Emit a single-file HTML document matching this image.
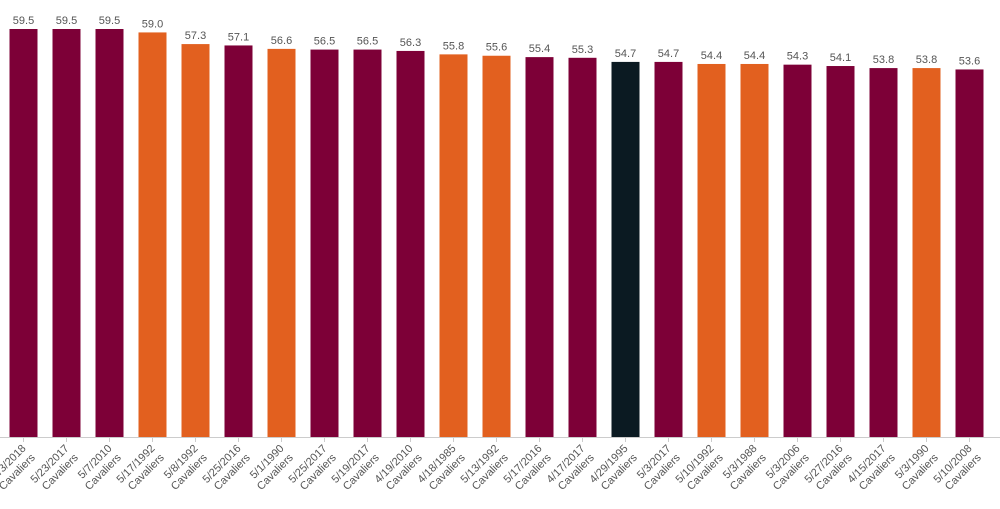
<!DOCTYPE html>
<html><head><meta charset="utf-8"><style>
body{margin:0;background:#fff;}
svg{display:block;font-family:"Liberation Sans",sans-serif;}
</style></head><body>
<svg id="c" width="1000" height="509"></svg>
<script>
const categories=["5/3/2018","5/23/2017","5/7/2010","5/17/1992","5/8/1992","5/25/2016","5/1/1990","5/25/2017","5/19/2017","4/19/2010","4/18/1985","5/13/1992","5/17/2016","4/17/2017","4/29/1995","5/3/2017","5/10/1992","5/3/1988","5/3/2006","5/27/2016","4/15/2017","5/3/1990","5/10/2008"];
const teams=["Cavaliers","Cavaliers","Cavaliers","Cavaliers","Cavaliers","Cavaliers","Cavaliers","Cavaliers","Cavaliers","Cavaliers","Cavaliers","Cavaliers","Cavaliers","Cavaliers","Cavaliers","Cavaliers","Cavaliers","Cavaliers","Cavaliers","Cavaliers","Cavaliers","Cavaliers","Cavaliers"];
const values=[59.5,59.5,59.5,59.0,57.3,57.1,56.6,56.5,56.5,56.3,55.8,55.6,55.4,55.3,54.7,54.7,54.4,54.4,54.3,54.1,53.8,53.8,53.6];
const colorGroups=["m","m","m","o","o","m","o","m","m","m","o","o","m","m","k","m","o","o","m","m","m","o","m"];
const palette={m:"#7d0037",o:"#e2601f",k:"#0b1a22"};
const NS="http://www.w3.org/2000/svg";
const svg=document.getElementById("c");
const x0=2,band=43,bw=28,base=437,pxPer=408/59.5;
const xs=i=>x0+band*i+band/2;
const ys=v=>base-v*pxPer;
function mk(t,a){const e=document.createElementNS(NS,t);for(const k in a)e.setAttribute(k,a[k]);svg.appendChild(e);return e;}
values.forEach((v,i)=>{
 const r=mk("rect",{x:xs(i)-bw/2,y:ys(v),width:bw,height:base-ys(v),fill:palette[colorGroups[i]]});
 
 
 const t=mk("text",{x:xs(i),y:ys(v)-5,"text-anchor":"middle","font-size":"11",fill:"#555"});
 t.textContent=v.toFixed(1);
 
 
 const tk=mk("line",{x1:xs(i),x2:xs(i),y1:base,y2:base+5,stroke:"#ccc"});
 
 
 const g=mk("text",{transform:`translate(${xs(i)+3},${base+12}) rotate(-45)`,"text-anchor":"end","font-size":"11",fill:"#555"});
 
 
 const s1=document.createElementNS(NS,"tspan");s1.setAttribute("x","0");s1.setAttribute("dy","0");s1.textContent=categories[i];g.appendChild(s1);
 const s2=document.createElementNS(NS,"tspan");s2.setAttribute("x","0");s2.setAttribute("dy","13");s2.textContent=teams[i];g.appendChild(s2);
});
const ax=mk("line",{x1:0,x2:1000,y1:base+0.5,y2:base+0.5,stroke:"#ccc"});


</script>
</body></html>
